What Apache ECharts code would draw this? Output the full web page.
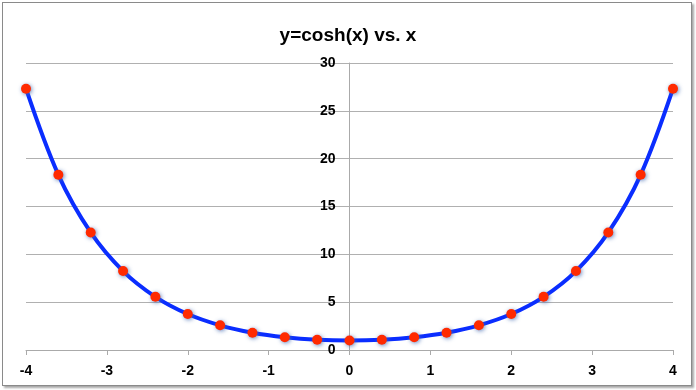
<!DOCTYPE html>
<html><head><meta charset="utf-8">
<script src="https://cdn.jsdelivr.net/npm/echarts@6/dist/echarts.min.js"></script>
<style>
html,body{margin:0;padding:0;background:#fff;}
#frame{position:absolute;left:2px;top:2px;width:688px;height:382px;border:1px solid #8a8a8a;box-shadow:2px 2px 2px rgba(0,0,0,0.35);background:#fff;}
#chart{position:absolute;left:0;top:0;width:696px;height:390px;}
</style></head>
<body>
<div id="frame"></div>
<div id="chart"></div>
<script>
const titleText = "y=cosh(x) vs. x";
const xValues = [-4, -3.6, -3.2, -2.8, -2.4, -2, -1.6, -1.2, -0.8, -0.4, 0, 0.4, 0.8, 1.2, 1.6, 2, 2.4, 2.8, 3.2, 3.6, 4];
const yValues = [27.31, 18.31, 12.29, 8.25, 5.56, 3.76, 2.58, 1.81, 1.34, 1.08, 1.0, 1.08, 1.34, 1.81, 2.58, 3.76, 5.56, 8.25, 12.29, 18.31, 27.31];
const xTicks = [-4, -3, -2, -1, 0, 1, 2, 3, 4];
const yTicks = [0, 5, 10, 15, 20, 25, 30];

const chart = echarts.init(document.getElementById('chart'), null, {renderer: 'canvas'});
const lab = {fontFamily: 'Liberation Sans, Arial, sans-serif', fontWeight: 'bold', fontSize: 14, color: '#000'};
const gridLeft = 26;
const option = {
  backgroundColor: 'transparent',
  animation: false,
  title: {text: titleText, left: 'center', top: 21,
    textStyle: {fontFamily: 'Liberation Sans, Arial, sans-serif', fontWeight: 'bold', fontSize: 19, color: '#000'}},
  grid: {left: gridLeft, right: 23, top: 63, bottom: 40, containLabel: false, outerBoundsMode: 'none'},
  xAxis: {type: 'value', min: xTicks[0], max: xTicks[xTicks.length-1], interval: 1,
    axisLine: {show: true, lineStyle: {color: '#aaa', width: 1}},
    axisTick: {show: true, length: 5, lineStyle: {color: '#aaa'}},
    axisLabel: Object.assign({margin: 14}, lab),
    splitLine: {show: false}},
  yAxis: {type: 'value', min: yTicks[0], max: yTicks[yTicks.length-1], interval: 5,
    position: 'left', offset: 0,
    axisLine: {show: true, onZero: false, lineStyle: {color: '#aaa', width: 1}},
    axisTick: {show: false},
    axisLabel: Object.assign({margin: 14}, lab),
    splitLine: {show: true, lineStyle: {color: '#b0b0b0', width: 1}}},
  series: [{
    type: 'line',
    data: xValues.map((x, i) => [x, yValues[i]]),
    smooth: 0.35,
    symbol: 'circle', symbolSize: 10,
    lineStyle: {color: '#0a2dff', width: 4},
    itemStyle: {color: '#ff2a00', borderWidth: 0,
      shadowColor: 'rgba(70,110,180,0.8)', shadowBlur: 4, shadowOffsetX: 1, shadowOffsetY: 1}
  }]
};
chart.setOption(option);
const zeroPx = chart.convertToPixel({xAxisIndex: 0}, 0);
chart.setOption({yAxis: {offset: -(zeroPx - gridLeft)}});
</script>
</body></html>
